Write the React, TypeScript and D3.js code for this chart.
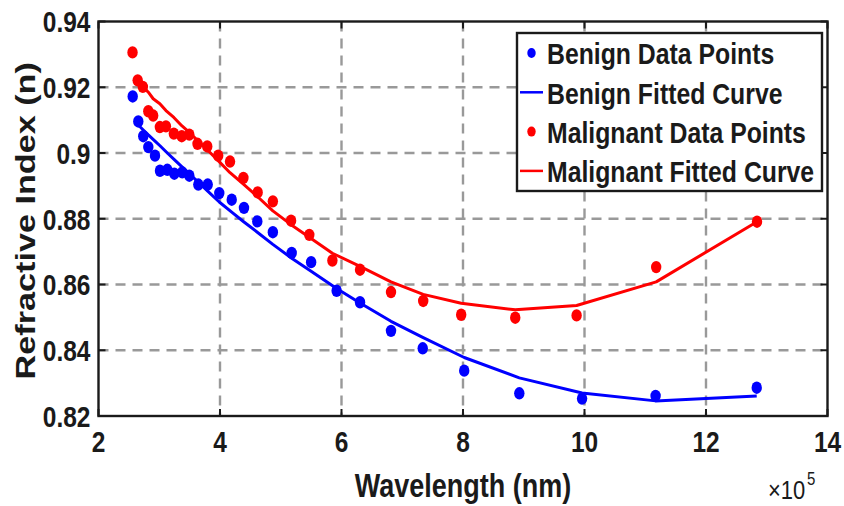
import React from 'react';
import * as d3 from 'd3';

// wavelength in units of 1e5 nm
const benignWavelength = [2.563, 2.655, 2.737, 2.82, 2.93, 3.012, 3.133, 3.248, 3.379, 3.495, 3.643, 3.798, 3.988, 4.193, 4.395, 4.614, 4.87, 5.18, 5.5, 5.92, 6.305, 6.815, 7.337, 8.02, 8.927, 9.96, 11.17, 12.835];
const benignIndex = [0.9172, 0.9096, 0.9051, 0.9018, 0.8992, 0.8946, 0.8949, 0.8937, 0.8941, 0.8931, 0.8904, 0.8904, 0.8878, 0.8858, 0.8833, 0.8792, 0.8759, 0.8696, 0.8668, 0.8581, 0.8546, 0.8459, 0.8406, 0.8338, 0.8269, 0.8253, 0.8261, 0.8286];
const benignFit = [null, 0.9085, 0.907, 0.9055, 0.9036, 0.9022, 0.9, 0.898, 0.8957, 0.8937, 0.8911, 0.8884, 0.8851, 0.882, 0.879, 0.8759, 0.8722, 0.868, 0.864, 0.8588, 0.8544, 0.8488, 0.8439, 0.8378, 0.8316, 0.827, 0.8246, 0.8261];

const malignantWavelength = [2.56, 2.645, 2.73, 2.82, 2.9, 3.01, 3.11, 3.24, 3.37, 3.495, 3.63, 3.79, 3.97, 4.165, 4.385, 4.62, 4.87, 5.17, 5.47, 5.85, 6.305, 6.815, 7.345, 7.97, 8.86, 9.87, 11.18, 12.84];
const malignantIndex = [0.9306, 0.9221, 0.9201, 0.9127, 0.9114, 0.9079, 0.9081, 0.9059, 0.9051, 0.9056, 0.9028, 0.902, 0.8992, 0.8974, 0.8924, 0.888, 0.8853, 0.8794, 0.8751, 0.8673, 0.8645, 0.8577, 0.855, 0.8508, 0.8499, 0.8506, 0.8653, 0.8791];
const malignantFit = [null, 0.9217, 0.9202, 0.9185, 0.9165, 0.915, 0.9129, 0.9108, 0.9083, 0.9063, 0.9038, 0.901, 0.8977, 0.894, 0.8905, 0.8867, 0.8824, 0.8782, 0.8744, 0.8695, 0.8655, 0.8608, 0.857, 0.8543, 0.8523, 0.8536, 0.8608, 0.8791];

const xTicks = [2, 4, 6, 8, 10, 12, 14];
const yTicks = [0.82, 0.84, 0.86, 0.88, 0.9, 0.92, 0.94];
const legendLabels = ['Benign Data Points', 'Benign Fitted Curve', 'Malignant Data Points', 'Malignant Fitted Curve'];

const W = 844;
const H = 506;
const left = 98.5, right = 827.5, top = 21.5, bottom = 416;
const SY = 1.2; // the picture is stretched vertically
const font = '"Liberation Sans", Arial, sans-serif';
const BLUE = '#0000ff';
const RED = '#ff0000';

const T = ({ x, y, size, anchor = 'middle', rotate = 0, fill = '#1a1a1a', children }: any) => (
    <g transform={`translate(${x},${y}) scale(1,${SY})${rotate ? ` rotate(${rotate})` : ''}`}>
        <text
            textAnchor={anchor}
            dominantBaseline="central"
            fontFamily={font}
            fontWeight="bold"
            fontSize={size}
            fill={fill}
        >
            {children}
        </text>
    </g>
);

export default function App() {
    const x = d3.scaleLinear().domain([2, 14]).range([left, right]);
    const y = d3.scaleLinear().domain([0.82, 0.94]).range([bottom, top]);

    const line = d3
        .line<[number, number | null]>()
        .defined((d) => d[1] !== null)
        .x((d) => x(d[0]))
        .y((d) => y(d[1] as number));

    const benignPts = benignWavelength.map((w, i) => [w, benignIndex[i]] as [number, number]);
    const malignantPts = malignantWavelength.map((w, i) => [w, malignantIndex[i]] as [number, number]);
    const benignLine = line(benignWavelength.map((w, i) => [w, benignFit[i]]));
    const malignantLine = line(malignantWavelength.map((w, i) => [w, malignantFit[i]]));

    const tickLen = 7;
    const legX = 517, legY = 33, legW = 305, legH = 158;
    const rowY = (i: number) => legY + 20 + i * 39.3;

    return (
        <svg width={W} height={H} style={{ position: 'absolute', left: 0, top: 0, background: '#fff' }}>
            <rect x={0} y={0} width={W} height={H} fill="#fff" />
            {/* grid */}
            <g stroke="#999" strokeWidth={2.4} strokeDasharray="10,7">
                {xTicks.slice(1, -1).map((t) => (
                    <line key={'gx' + t} x1={x(t)} x2={x(t)} y1={top} y2={bottom} />
                ))}
                {yTicks.slice(1, -1).map((t) => (
                    <line key={'gy' + t} x1={left} x2={right} y1={y(t)} y2={y(t)} />
                ))}
            </g>

            {/* series */}
            <g fill={BLUE}>
                {benignPts.map((d, i) => (
                    <ellipse key={'b' + i} cx={x(d[0])} cy={y(d[1])} rx={5.2} ry={6.2} />
                ))}
            </g>
            <path d={benignLine || ''} fill="none" stroke={BLUE} strokeWidth={3} strokeLinejoin="round" />
            <g fill={RED}>
                {malignantPts.map((d, i) => (
                    <ellipse key={'m' + i} cx={x(d[0])} cy={y(d[1])} rx={5.2} ry={6.2} />
                ))}
            </g>
            <path d={malignantLine || ''} fill="none" stroke={RED} strokeWidth={3} strokeLinejoin="round" />

            {/* axes box and ticks */}
            <rect x={left} y={top} width={right - left} height={bottom - top} fill="none" stroke="#1a1a1a" strokeWidth={2.4} />
            <g stroke="#1a1a1a" strokeWidth={2}>
                {xTicks.map((t) => (
                    <g key={'tx' + t}>
                        <line x1={x(t)} x2={x(t)} y1={bottom} y2={bottom - tickLen} />
                        <line x1={x(t)} x2={x(t)} y1={top} y2={top + tickLen} />
                    </g>
                ))}
                {yTicks.map((t) => (
                    <g key={'ty' + t}>
                        <line x1={left} x2={left + tickLen} y1={y(t)} y2={y(t)} />
                        <line x1={right} x2={right - tickLen} y1={y(t)} y2={y(t)} />
                    </g>
                ))}
            </g>

            {xTicks.map((t) => (
                <T key={'lx' + t} x={x(t)} y={bottom + 26} size={24.5}>
                    {t}
                </T>
            ))}
            {yTicks.map((t) => (
                <T key={'ly' + t} x={left - 8} y={y(t) + 1} size={24.5} anchor="end">
                    {d3.format('~g')(t)}
                </T>
            ))}

            <T x={(left + right) / 2} y={486} size={27}>
                Wavelength (nm)
            </T>
            <T x={25} y={(top + bottom) / 2 + 2} size={28.5} rotate={-90}>
                Refractive Index (n)
            </T>
            <g transform={`translate(768,490) scale(1,${SY})`}>
                <text fontFamily={font} fontSize={22} fill="#1a1a1a" dominantBaseline="central">
                    ×10
                </text>
                <text x={39} y={-9} fontFamily={font} fontSize={15} fill="#1a1a1a" dominantBaseline="central">
                    5
                </text>
            </g>

            {/* legend */}
            <rect x={legX} y={legY} width={legW} height={legH} fill="#fff" stroke="#1a1a1a" strokeWidth={2.4} />
            {legendLabels.map((label, i) => {
                const cy = rowY(i);
                const color = i < 2 ? BLUE : RED;
                return (
                    <g key={label}>
                        {i % 2 === 0 ? (
                            <ellipse cx={531.5} cy={cy} rx={4.2} ry={5} fill={color} />
                        ) : (
                            <line x1={520} x2={543} y1={cy} y2={cy} stroke={color} strokeWidth={2.5} />
                        )}
                        <T x={547} y={cy + 1} size={24.8} anchor="start">
                            {label}
                        </T>
                    </g>
                );
            })}
        </svg>
    );
}
